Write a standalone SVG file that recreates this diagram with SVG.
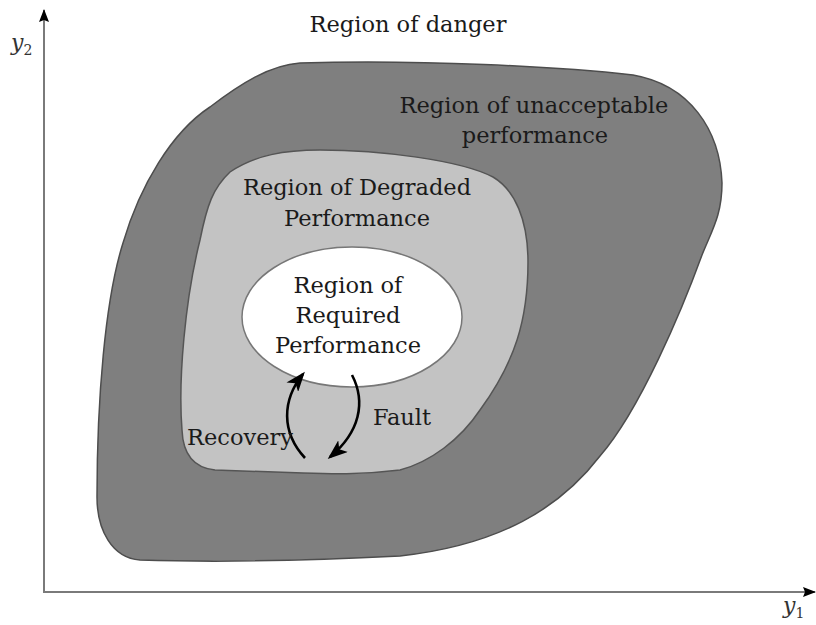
<svg xmlns="http://www.w3.org/2000/svg" width="816" height="625" viewBox="0 0 816 625">
<style>
  .lbl { font-family: "DejaVu Serif", "Liberation Serif", serif; font-size: 22.5px; fill: #1a1a1a; text-anchor: middle; }
  .ax { font-family: "DejaVu Serif", "Liberation Serif", serif; font-style: italic; font-size: 22px; fill: #333; }
  .axis { stroke: #7a7a7a; stroke-width: 2; fill: none; }
  .flow { stroke: #000; stroke-width: 2.6; fill: none; marker-end: url(#head); }
</style>
<defs>
  <marker id="head" viewBox="0 0 20 15" refX="17" refY="7.5" markerWidth="20" markerHeight="15" markerUnits="userSpaceOnUse" orient="auto">
    <path d="M0,0 L20,7.5 L0,15 L5,7.5 Z" fill="#000"/>
  </marker>
  <marker id="axhead" viewBox="0 0 14 12" refX="12" refY="6" markerWidth="14" markerHeight="12" markerUnits="userSpaceOnUse" orient="auto">
    <path d="M0,1 L13,6 L0,11 L2,6 Z" fill="#000"/>
  </marker>
</defs>
<rect width="816" height="625" fill="#fff"/>
<g id="axes">
  <line class="axis" x1="44" y1="593" x2="44" y2="10" marker-end="url(#axhead)"/>
  <line class="axis" x1="44" y1="592" x2="815" y2="592" marker-end="url(#axhead)"/>
  <text class="ax" x="11" y="50">y<tspan font-size="14" dy="5" font-style="normal">2</tspan></text>
  <text class="ax" x="783" y="613">y<tspan font-size="14" dy="5" font-style="normal">1</tspan></text>
</g>
<g id="danger">
  <text class="lbl" x="408" y="32">Region of danger</text>
</g>
<g id="unacceptable">
  <path d="M300,63 C420,59 560,67 633,75 C690,85 720,130 722,183 C722,215 712,230 702,255 C682,310 640,410 600,456 C560,508 500,545 400,556 C300,561 200,562 140,560 C112,558 97,530 97,497 C97,400 105,300 123,243 C140,185 172,132 210,107 C240,84 270,65 300,63 Z" fill="#7f7f7f" stroke="#4d4d4d" stroke-width="1.5"/>
  <text class="lbl" x="534" y="113">Region of unacceptable</text>
  <text class="lbl" x="535" y="143">performance</text>
</g>
<g id="degraded">
  <path d="M320,150 C380,150 460,160 493,177 C515,190 528,220 528,262 C528,320 515,362 480,410 C460,440 430,462 400,470 C360,475 330,474 303,473 L215,470 C195,468 183,455 182,430 C178,380 185,300 200,240 C207,205 213,188 230,172 C255,155 285,150 320,150 Z" fill="#c3c3c3" stroke="#555" stroke-width="1.5"/>
  <text class="lbl" x="357" y="195">Region of Degraded</text>
  <text class="lbl" x="357" y="226">Performance</text>
</g>
<g id="required">
  <ellipse cx="352" cy="317" rx="110" ry="70" fill="#fff" stroke="#777" stroke-width="1.5"/>
  <text class="lbl" x="348" y="293">Region of</text>
  <text class="lbl" x="348" y="323">Required</text>
  <text class="lbl" x="348" y="353">Performance</text>
</g>
<g id="connectors">
  <path class="flow" d="M305,458 C281,432 282,400 303,374"/>
  <path class="flow" d="M352,375 C366,402 360,432 330,457"/>
  <text class="lbl" x="402" y="425">Fault</text>
  <text class="lbl" x="240" y="445">Recovery</text>
</g>
</svg>
